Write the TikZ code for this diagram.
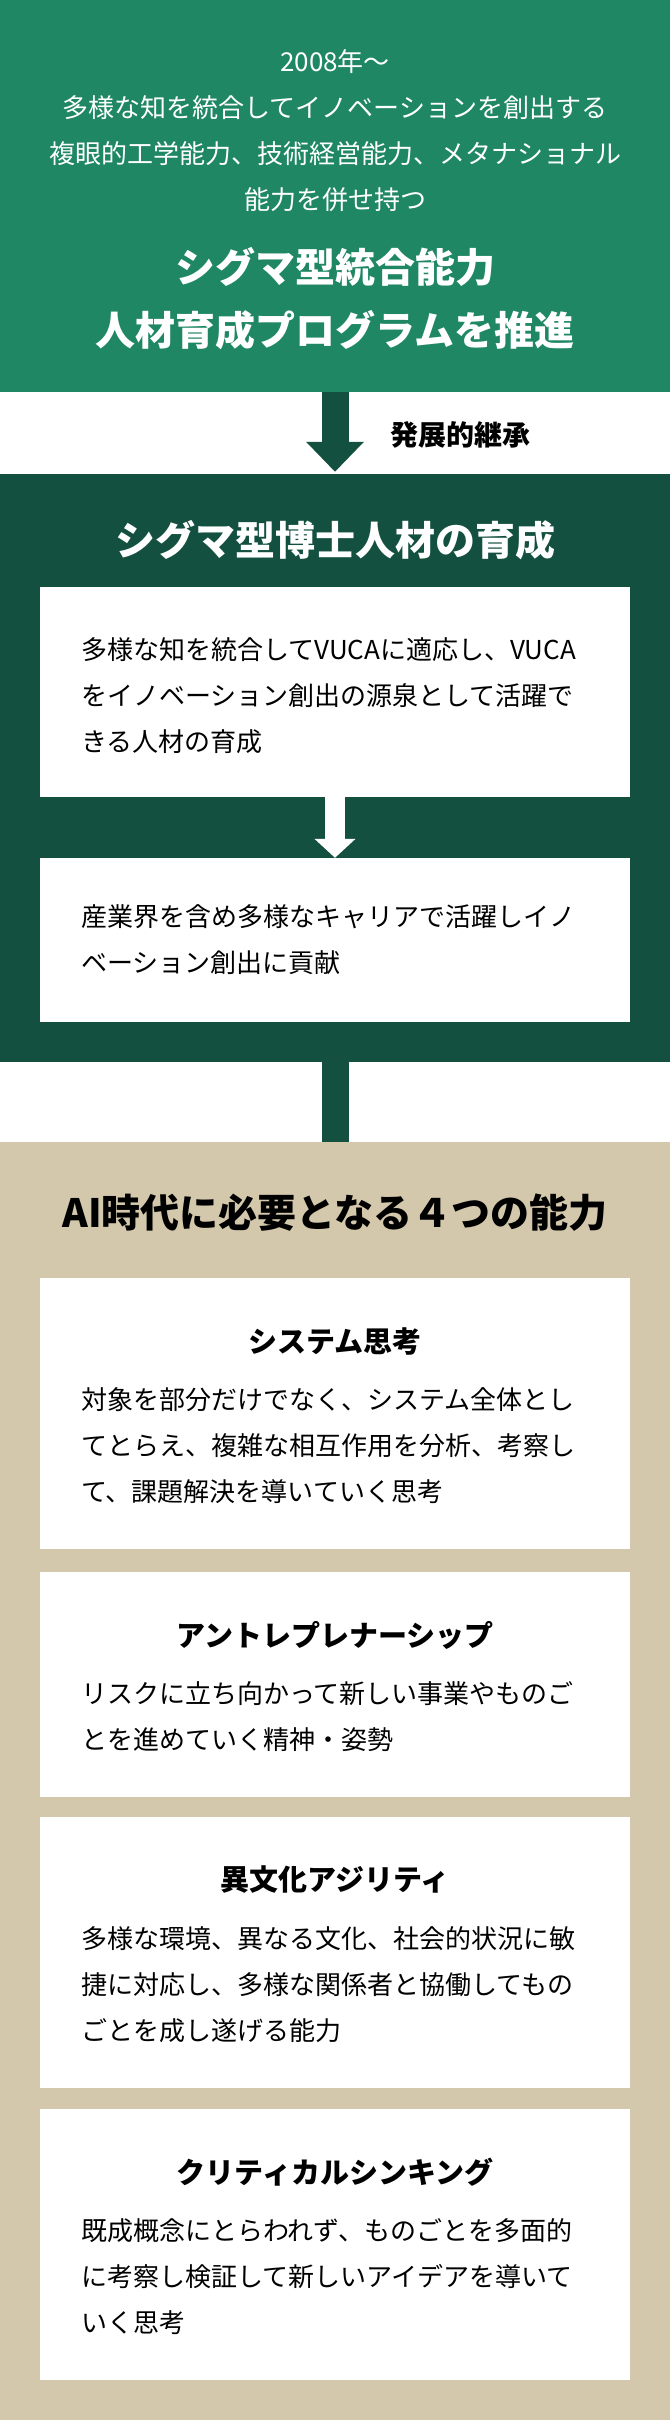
\documentclass[tikz,border=0pt]{standalone}
\usepackage{fontspec}
\usetikzlibrary{arrows.meta}
\newfontfamily\jpfont{Noto Sans CJK JP}
\definecolor{sigmagreen}{HTML}{1F8764}
\definecolor{deepgreen}{HTML}{145040}
\definecolor{sand}{HTML}{D4C8AC}
\tikzset{
  band/.style={rectangle, inner sep=0, minimum width=670pt},
  panel/.style={rectangle, fill=white, inner sep=0, minimum width=590pt},
  body/.style={anchor=north west, inner sep=0, align=left, font=\jpfont\fontsize{26}{46}\selectfont},
  boxtitle/.style={inner sep=0, font=\jpfont\bfseries\fontsize{29}{35}\selectfont},
  bigtitle/.style={inner sep=0, align=center, font=\jpfont\bfseries\fontsize{40}{63}\selectfont},
}

\begin{document}
\begin{tikzpicture}[x=1pt, y=-1pt]
      \useasboundingbox (0,0) rectangle (670,2420);
      % three bands
      \node[band, fill=sigmagreen, minimum height=392pt] (top) at (335,196) {};
      \node[band, fill=deepgreen, minimum height=588pt] (mid) at (335,768) {};
      \node[band, fill=sand, minimum height=1278pt] (bottom) at (335,1781) {};

      \node[inner sep=0, align=center, white, font=\jpfont\fontsize{26}{46}\selectfont] (since) at (335,131)
           {2008年～\\多様な知を統合してイノベーションを創出する\\複眼的工学能力、技術経営能力、メタナショナル\\能力を併せ持つ};
      \node[bigtitle, white] (program) at (335,298.5) {シグマ型統合能力\\人材育成プログラムを推進};

      \draw[deepgreen, line width=27pt, -{Triangle[width=56pt,length=30pt]}] (top.south) -- ([yshift=2pt]mid.north);
      \node[inner sep=0, font=\jpfont\bfseries\fontsize{28}{34}\selectfont] (inherit) at (460,435) {発展的継承};

      \node[bigtitle, white] (doctor) at (335,540) {シグマ型博士人材の育成};
      \node[panel, minimum height=210pt] (vuca) at (335,692) {};
      \node[body] (vucatext) at (81,637)
           {多様な知を統合してVUCAに適応し、VUCA\\をイノベーション創出の源泉として活躍で\\きる人材の育成};
      \node[panel, minimum height=164pt] (career) at (335,940) {};
      \node[body] (careertext) at (81,904)
           {産業界を含め多様なキャリアで活躍しイノ\\ベーション創出に貢献};
      \draw[white, line width=20pt, -{Triangle[width=40pt,length=19pt]}] (vuca.south) -- (career.north);

      \draw[deepgreen, line width=27pt] (mid.south) -- (bottom.north);

      \node[inner sep=0, font=\jpfont\bfseries\fontsize{39}{47}\selectfont] (four) at (335,1213) {AI時代に必要となる４つの能力};

      \node[panel, minimum height=271pt] (system) at (335,1413.5) {};
      \node[boxtitle] (systemtitle) at (335,1341) {システム思考};
      \node[body] (systemtext) at (81,1387)
           {対象を部分だけでなく、システム全体とし\\てとらえ、複雑な相互作用を分析、考察し\\て、課題解決を導いていく思考};

      \node[panel, minimum height=225pt] (entre) at (335,1684.5) {};
      \node[boxtitle] (entretitle) at (335,1635) {アントレプレナーシップ};
      \node[body] (entretext) at (81,1681)
           {リスクに立ち向かって新しい事業やものご\\とを進めていく精神・姿勢};

      \node[panel, minimum height=271pt] (agile) at (335,1952.5) {};
      \node[boxtitle] (agiletitle) at (335,1880) {異文化アジリティ};
      \node[body] (agiletext) at (81,1926)
           {多様な環境、異なる文化、社会的状況に敏\\捷に対応し、多様な関係者と協働してもの\\ごとを成し遂げる能力};

      \node[panel, minimum height=271pt] (critical) at (335,2244.5) {};
      \node[boxtitle] (criticaltitle) at (335,2172) {クリティカルシンキング};
      \node[body] (criticaltext) at (81,2218)
           {既成概念にとらわれず、ものごとを多面的\\に考察し検証して新しいアイデアを導いて\\いく思考};
  \end{tikzpicture}
\end{document}
